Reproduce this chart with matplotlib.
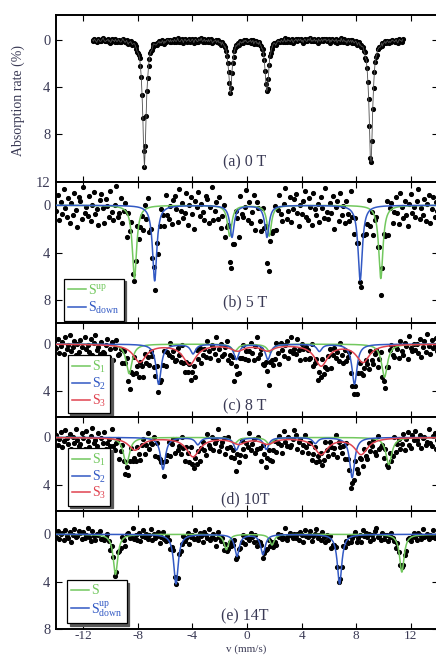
"""Stacked Mössbauer spectra at 0, 5, 8, 10 and 14 T with fitted sub-spectra."""

import matplotlib

matplotlib.use("Agg")
import matplotlib.pyplot as plt
import numpy as np

# ---- peak parameters (position mm/s, depth %, HWHM mm/s) ----
POS_A = [-7.51, -1.22, 1.46, 9.07]
DEPTH_A = [10.7, 4.5, 4.5, 10.7]
HWHM_A = 0.15

POS_B_UP = [-8.24, -1.27, 1.63, 9.80]
DEPTH_B_UP = [6.2, 2.6, 2.6, 6.2]
POS_B_DOWN = [-6.76, -1.10, 1.46, 8.29]
DEPTH_B_DOWN = [6.4, 2.7, 2.7, 6.35]
HWHM_B = 0.19

POS_C1 = [-8.63, -0.90, 1.70, 10.07]
DEPTH_C1 = [2.5, 0.6, 0.7, 2.8]
POS_C2 = [-6.47, -3.95, -0.78, 1.53, 5.30, 7.87]
DEPTH_C2 = [3.4, 0.8, 1.3, 1.3, 0.6, 3.4]
POS_C3 = [-7.85, -4.20, -0.70, 1.50, 5.43, 8.49]
DEPTH_C3 = [1.5, 1.7, 0.5, 0.5, 1.8, 1.5]

POS_D1 = [-8.83, -0.90, 1.65, 10.39]
DEPTH_D1 = [2.3, 0.5, 0.6, 2.3]
POS_D2 = [-6.15, -3.60, -0.78, 1.41, 5.00, 7.70]
DEPTH_D2 = [2.7, 0.6, 1.05, 1.0, 0.5, 3.4]
POS_D3 = [-8.20, -3.95, -0.60, 1.50, 5.43, 8.36]
DEPTH_D3 = [1.05, 1.6, 0.5, 0.5, 1.4, 1.4]

HWHM_S1 = 0.26
HWHM_S2 = 0.22
HWHM_S3 = 0.58

POS_E_UP = [-9.63, -1.51, 1.83, 11.34]
DEPTH_E_UP = [3.4, 1.3, 0.9, 3.2]
POS_E_DOWN = [-5.20, -0.73, 1.17, 6.78]
DEPTH_E_DOWN = [4.2, 1.85, 1.7, 4.2]
HWHM_E = 0.2

# velocity range covered by the channels
V_RANGE_A = (-11.3, 11.4)
V_RANGE = (-13.95, 13.95)

# scatter of measured points about the fit, in units of 0.1 % (read/estimated)
DEV_A = [
    0, 1, -1, 0, 1, 2, 0, -1, 0, 1, 1, 0, -1, -2, 0, 1,
    1, 0, 0, -1, 1, 0, 2, 1, -1, 0, 0, 1, -1, 0, 1, 0,
    -1, 0, 1, 1, 0, -2, -1, 0, 1, 0, -1, 1, 2, 0, 0, -1,
    0, 1, 0, -1, -1, 0, 1, 2, 1, 0, -1, 0, 0, 1, -1, 0,
    1, -1, 0, 0, 2, 1, 0, -1, 0, 1, 0, -2, -1, 0, 1, 1,
    0, 0, -1, 1, 0, 1, -1, 0, 2, 0, 1, 0, -1, -1, 0, 1,
    -1, 1, 0, 0, 1, -1, 0, 1, 0, -2, 0, 1, 1, 0, -1, 0,
    2, 0, -1, 0, 1, 0, 0, -1, 1, 1, 0, -1, 0, 2, 0, -1,
    0, 1, 1, -1, 0, 0, -2, 0, 1, 0, -1, 1, 0, 0, 1, -1,
    1, 0, -1, 0, 2, 1, 0, 0, -1, 1, 0, -1, 1, 0, 0, 2,
    -1, 0, 0, 1, -1, 0, 1, 1, 0, -2, 0, 1, -1, 0, 1, 0,
    0, -1, 1, 0, 0, 2, -1, 0, 1, 0, 1, -1, 0, -1, 0, 1,
    1, 0, 0, -1, 1, 0, -1, 2, 0, 0, -1, 1, 0, 1, -2, 0,
    0, 1, -1, 0, 0, 1, 1, -1, 0, 2, 0, -1, 1, 0, 0, -1,
    -1, 0, 2, 1, 0, -1, 0, 0, 1, -1, 0, 1, 0, -2, 1, 0,
    1, -1, 0, 0, 1, 0, -1, 1, 2, 0, 0, -1, 0, 1, -1, 0,
    0, -1, 1, 0, 2, 0, -1, 0, 1, 1, -1, 0, 0, -2, 1, 0,
    1, 0, -1, 1, 0, 0, 2, -1, 0, 1, 0, -1, 1, 0, -1, 0,
    -1, 1, 0, 0, -1, 2, 0, 1, -1, 0, 0, 1, 0, -1, 2, 0,
    0, 0, 1, -2, 0, 1, -1, 0, 1, 0, 2, 0, -1, 1, 0, -1,
    1, -1, 0, 1, 0, -1, 0, 2, 0, -1, 1, 0, 1, 0, -1, 1,
    0, 2, -1, 0, 1, 0, -1, 0, -2, 1, 0, 1, 0, -1, 0, 1,
    -1, 0, 0, 1, 1, -1, 2, 0, 0, -1, 1, 0, -1, 0, 1, 0,
    1, 0, -1, 0, 0, 1, 0, -1, 1, 2, 0, -1, 0, 0, 1, -1,
]
DEV_B = [
    5, -9, 12, -3, 7, -14, 2, 10, -6, 15, -2, 8, -11, 4, 18, -7,
    -4, 11, -16, 6, 1, 9, -8, 13, -1, -12, 7, 3, 16, -5, -10, 2,
    14, -6, 0, 9, -13, 5, 11, -2, -18, 8, 4, -9, 12, 1, -7, 20,
    -3, 7, -11, 15, 2, -5, -14, 10, 6, -1, 13, -8, 3, -16, 9, 0,
    11, -4, 8, -10, 17, 3, -7, 1, 12, -13, 5, 9, -2, 14, -6, -9,
    2, 13, -15, 4, -3, 10, 6, -11, 16, -1, -8, 7, 19, -4, 1, -12,
    8, -2, 5, 12, -9, -6, 14, 0, -17, 11, 3, -5, 9, -10, 15, 4,
    -7, 16, 1, -13, 6, 9, -3, 11, -8, 2, 21, -12, 4, 7, -1, -15,
    10, -5, 13, 3, -11, 18, -6, -2, 8, 14, -9, 1, -14, 6, 12, -4,
    3, 9, -7, 15, 0, -12, 5, 11, -3, -16, 10, 4, -8, 13, 2, -6,
    -10, 6, 17, -1, 7, -4, -13, 9, 12, -7, 1, 16, -11, 3, 8, -2,
    14, -8, 2, 10, -15, 5, 11, -3, 6, -9, 19, 0, -5, 12, -12, 7,
    -1, 13, -6, 4, 9, -17, 3, 15, -4, 8, -10, 2, 14, -8, 5, 11,
    6, -13, 10, -2, 16, 1, -7, 8, -11, 13, 4, -4, 9, -14, 18, -3,
    -6, 12, 3, -9, 5, 14, -12, 0, 10, -5, 7, 17, -2, -10, 6, 1,
    9, -4, -14, 11, 2, 8, -6, 13, -1, -9, 15, 3, -7, 10, -3, 5,
]
DEV_C = [
    3, -5, 7, 1, -2, 8, -6, 4, 0, -8, 5, 2, -3, 9, -1, 6,
    -4, 2, 10, -7, 3, 0, 6, -5, 8, -2, -9, 4, 1, 7, -3, 5,
    6, -1, -6, 9, 2, -4, 11, 0, -7, 5, 3, -2, 8, -5, 1, -10,
    2, 7, -3, 4, -8, 6, 0, 9, -4, 1, 12, -6, 3, -1, 7, -5,
    -2, 5, 8, -9, 4, -3, 6, 2, -6, 10, -1, 3, -7, 5, 0, 8,
    7, -4, 1, 6, -10, 3, 9, -2, 4, -5, 7, 0, -3, 11, -8, 2,
    -5, 9, 3, -1, 6, -7, 2, 8, -3, 0, 5, -9, 10, 1, -4, 6,
    4, -2, -8, 7, 1, 5, -4, 11, -6, 3, 8, -1, 2, -7, 6, 0,
    8, 1, -5, 3, 9, -3, -11, 6, 2, -4, 7, 5, -2, 0, 10, -6,
    -3, 6, 4, -8, 2, 12, -5, 1, 7, -2, -6, 9, 3, -9, 5, 1,
    5, -7, 2, 10, -4, 0, 8, -3, -1, 6, 4, -10, 7, 2, -5, 9,
    -1, 4, -9, 6, 3, 7, -2, -6, 11, 1, -4, 5, 0, 8, -7, 3,
    9, -3, 5, 0, -8, 4, 6, 2, -5, 10, -1, -7, 3, 6, 1, -4,
    2, 8, -6, 3, 7, -1, -4, 9, 0, -10, 5, 2, 8, -3, 4, -6,
    -7, 3, 6, -2, 1, 9, -5, 4, 7, -3, 0, 11, -8, 2, 5, -1,
    4, -1, 7, -5, 10, 2, -3, 6, -9, 1, 8, -4, 3, 0, -6, 5,
]
DEV_D = [
    -2, 6, 1, -5, 8, 3, -7, 0, 5, -3, 9, -1, 4, -8, 2, 7,
    5, -4, 0, 9, -6, 2, 7, -2, -9, 4, 1, 6, -5, 10, -1, 3,
    -6, 8, 3, -1, 5, -10, 4, 7, 0, -4, 11, 2, -7, 1, 6, -3,
    7, 0, -8, 4, 2, 6, -5, 3, 9, -2, -6, 8, 1, -9, 5, 0,
    1, -6, 10, -3, 7, 4, -1, -8, 6, 2, 3, -5, 9, 0, -4, 8,
    -4, 5, 2, 8, -7, 1, 11, -3, 0, 6, -9, 4, 7, -2, 3, -6,
    6, -2, -5, 3, 9, -8, 2, 5, -4, 7, 1, -1, -10, 8, 4, 0,
    -3, 10, 4, -6, 1, 7, -2, 0, 8, -5, 6, 3, -7, 2, 9, -1,
    3, -8, 6, 1, -3, 9, 5, -6, 2, 12, -4, 0, 7, -2, -7, 4,
    8, 2, -4, 7, 0, -5, 3, 10, -8, 1, 5, -3, 6, 4, -1, -9,
    -5, 7, 1, -2, 9, 3, -6, 4, 8, -1, -3, 10, 2, -7, 5, 0,
    4, -3, 8, 5, -9, 0, 6, -4, 1, 7, 3, -8, 11, -2, 2, 6,
    -1, 9, -7, 2, 4, 8, -3, 1, -6, 5, 10, -2, 0, 7, -5, 3,
    7, -5, 3, 0, -4, 6, 9, -7, 4, 2, -1, 8, -3, 5, 1, -10,
    2, 4, -9, 6, 1, -2, 7, 3, -5, 9, 0, -6, 5, 8, -3, 1,
    -6, 1, 5, -3, 8, 0, -1, 6, 3, -8, 4, 7, -2, -4, 9, 2,
]
DEV_E = [
    2, -3, 4, 0, -1, 5, -4, 1, 3, -2, 6, 0, -5, 2, 1, -3,
    -1, 4, -2, 3, 0, -6, 2, 5, -3, 1, 4, -1, 0, -4, 3, 2,
    3, 0, -4, 1, 6, -2, -1, 3, 0, -5, 2, 4, -3, 1, 7, -2,
    -3, 2, 1, -6, 3, 0, 4, -2, 5, 1, -4, 2, -1, 3, 0, -5,
    4, -1, 2, 0, -3, 6, 1, -4, 2, 3, -2, 0, 5, -1, -6, 3,
    0, 5, -2, 3, 1, -4, 2, 0, -3, 6, 1, -1, 3, -5, 2, 4,
    -2, 1, 6, -3, 0, 2, -5, 4, 1, -1, 3, 8, -4, 0, 2, -2,
    5, -4, 0, 2, -1, 3, 1, -6, 4, 0, -2, 3, 1, -3, 5, 0,
    1, 3, -3, 0, 4, -2, 6, 1, -1, -4, 2, 0, 3, 5, -2, 1,
    -4, 2, 1, 5, -3, 0, -1, 3, 2, -6, 4, 1, -2, 0, 3, -1,
    3, -1, 4, -2, 0, 6, -4, 1, 2, 0, -3, 5, 1, -1, -5, 2,
    0, 4, -3, 1, 5, -1, 2, -2, 7, 3, 0, -4, 2, 1, -1, 3,
    -5, 2, 0, 3, -2, 4, 1, -1, -3, 5, 2, 0, 6, -4, 1, -2,
    2, -1, 5, 0, 3, -3, -6, 2, 1, 4, -2, 3, 0, -1, 4, 1,
    -3, 0, 2, 6, -1, 1, 3, -4, 0, 2, 5, -2, -1, 3, 0, -3,
    1, 4, -2, 0, 3, -5, 2, 1, -1, 4, 0, 2, -4, 3, 1, 0,
]

PANEL_LABELS = ["(a) 0 T", "(b) 5 T", "(c) 8 T", "(d) 10T", "(e) 14T"]
YLIMS = [(12, -2.1), (10, -2.0), (6.2, -1.75), (6.2, -1.7), (8, -2.0)]
YTICKS = [[0, 4, 8, 12], [0, 4, 8], [0, 4], [0, 4], [0, 4, 8]]
XTICKS = [-12, -8, -4, 0, 4, 8, 12]

GREEN = "#72c85e"
BLUE = "#3259c4"
RED = "#e04350"
TEXT = "#3a3a55"


def lorentz_sum(v, pos, depth, hwhm):
    out = np.zeros_like(v)
    for p, d in zip(pos, depth):
        out += d / (1.0 + ((v - p) / hwhm) ** 2)
    return out


def style_axis(ax, ylim, yticks, label, label_y, show_x):
    ax.set_xlim(-14, 14)
    ax.set_ylim(*ylim)
    ax.set_yticks(yticks)
    ax.set_xticks(XTICKS)
    ax.tick_params(
        direction="in", top=True, right=True, length=4, width=0.8,
        labelsize=10.5, labelcolor=TEXT, pad=4,
    )
    ax.tick_params(axis="x", labelsize=9.5, pad=1)
    if not show_x:
        ax.tick_params(labelbottom=False)
    for sp in ax.spines.values():
        sp.set_linewidth(1.4)
    ax.text(0.495, label_y, label, transform=ax.transAxes, ha="center",
            va="center", fontsize=11.5, color=TEXT)


def add_legend(ax, handles, labels, colors, anchor, spacing):
    leg = ax.legend(
        handles, labels, loc="lower left", bbox_to_anchor=anchor,
        borderaxespad=0, frameon=True, fancybox=False,
        shadow={"color": "0.35", "alpha": 1.0}, edgecolor="black",
        handlelength=1.3, handletextpad=0.15, borderpad=0.3,
        labelspacing=spacing, fontsize=10,
    )
    leg.get_frame().set_linewidth(0.9)
    for txt, c in zip(leg.get_texts(), colors):
        txt.set_color(c)
    return leg


def main() -> None:
    plt.rcParams["font.family"] = ["Liberation Serif", "DejaVu Serif"]
    plt.rcParams["mathtext.fontset"] = "custom"
    plt.rcParams["mathtext.rm"] = "Liberation Serif"
    plt.rcParams["mathtext.it"] = "Liberation Serif:italic"
    plt.rcParams["axes.unicode_minus"] = False

    fig = plt.figure(figsize=(4.36, 6.55), dpi=100)
    gs = fig.add_gridspec(
        5, 1, left=0.128, right=1.005, top=0.977, bottom=0.04, hspace=0,
        height_ratios=[14.1, 12, 7.95, 7.9, 10],
    )
    axes = [fig.add_subplot(gs[i]) for i in range(5)]

    v_a = np.linspace(*V_RANGE_A, len(DEV_A))
    v = np.linspace(*V_RANGE, len(DEV_B))
    fine = np.linspace(-14, 14, 3000)
    pt = dict(ls="none", marker="o", ms=2.7, color="black", zorder=2)
    lw = 1.1

    # (a) 0 T
    ax = axes[0]
    y_a = lorentz_sum(v_a, POS_A, DEPTH_A, HWHM_A) + 0.1 * np.array(DEV_A)
    ax.plot(v_a, y_a, color="0.3", lw=0.6, zorder=3)
    ax.plot(v_a, y_a, **pt)

    # (b) 5 T
    ax = axes[1]
    up = lorentz_sum(v, POS_B_UP, DEPTH_B_UP, HWHM_B)
    down = lorentz_sum(v, POS_B_DOWN, DEPTH_B_DOWN, HWHM_B)
    ax.plot(v, up + down + 0.1 * np.array(DEV_B), **pt)
    h1, = ax.plot(fine, lorentz_sum(fine, POS_B_UP, DEPTH_B_UP, HWHM_B), color=GREEN, lw=lw, zorder=3)
    h2, = ax.plot(fine, lorentz_sum(fine, POS_B_DOWN, DEPTH_B_DOWN, HWHM_B), color=BLUE, lw=lw, zorder=3)
    add_legend(ax, [h1, h2], [r"S$^{\rm up}$", r"S$_{\rm down}$"], [GREEN, BLUE],
               (0.021, 0.02), 0.25)

    # (c) 8 T and (d) 10 T
    for ax, comps, dev, anchor in (
        (axes[2], [(POS_C1, DEPTH_C1), (POS_C2, DEPTH_C2), (POS_C3, DEPTH_C3)], DEV_C, (0.031, 0.045)),
        (axes[3], [(POS_D1, DEPTH_D1), (POS_D2, DEPTH_D2), (POS_D3, DEPTH_D3)], DEV_D, (0.031, 0.055)),
    ):
        widths = [HWHM_S1, HWHM_S2, HWHM_S3]
        total = sum(lorentz_sum(v, p, d, w) for (p, d), w in zip(comps, widths))
        ax.plot(v, total + 0.1 * np.array(dev), **pt)
        handles = []
        for (p, d), w, c in zip(comps, widths, [GREEN, BLUE, RED]):
            h, = ax.plot(fine, lorentz_sum(fine, p, d, w), color=c, lw=lw, zorder=3)
            handles.append(h)
        add_legend(ax, handles, [r"S$_1$", r"S$_2$", r"S$_3$"], [GREEN, BLUE, RED],
                   anchor, 0.05)

    # (e) 14 T
    ax = axes[4]
    up = lorentz_sum(v, POS_E_UP, DEPTH_E_UP, HWHM_E)
    down = lorentz_sum(v, POS_E_DOWN, DEPTH_E_DOWN, HWHM_E)
    ax.plot(v, up + down + 0.1 * np.array(DEV_E), **pt)
    h1, = ax.plot(fine, lorentz_sum(fine, POS_E_UP, DEPTH_E_UP, HWHM_E), color=GREEN, lw=lw, zorder=3)
    h2, = ax.plot(fine, lorentz_sum(fine, POS_E_DOWN, DEPTH_E_DOWN, HWHM_E), color=BLUE, lw=lw, zorder=3)
    add_legend(ax, [h1, h2], ["S", r"S$^{\rm up}_{\rm down}$"], [GREEN, BLUE],
               (0.029, 0.05), 0.1)

    label_y = [0.114, 0.148, 0.116, 0.117, 0.108]
    for i, ax in enumerate(axes):
        style_axis(ax, YLIMS[i], YTICKS[i], PANEL_LABELS[i], label_y[i], i == 4)

    fig.text(18 / 436, 1 - 100 / 655, "Absorption rate (%)", rotation=90,
             ha="center", va="center", fontsize=10, color=TEXT)
    fig.text(246 / 436, 0.5 / 655, "v (mm/s)", ha="center", va="bottom",
             fontsize=8, color=TEXT)

    fig.savefig("out.png", dpi=100)


if __name__ == "__main__":
    main()
